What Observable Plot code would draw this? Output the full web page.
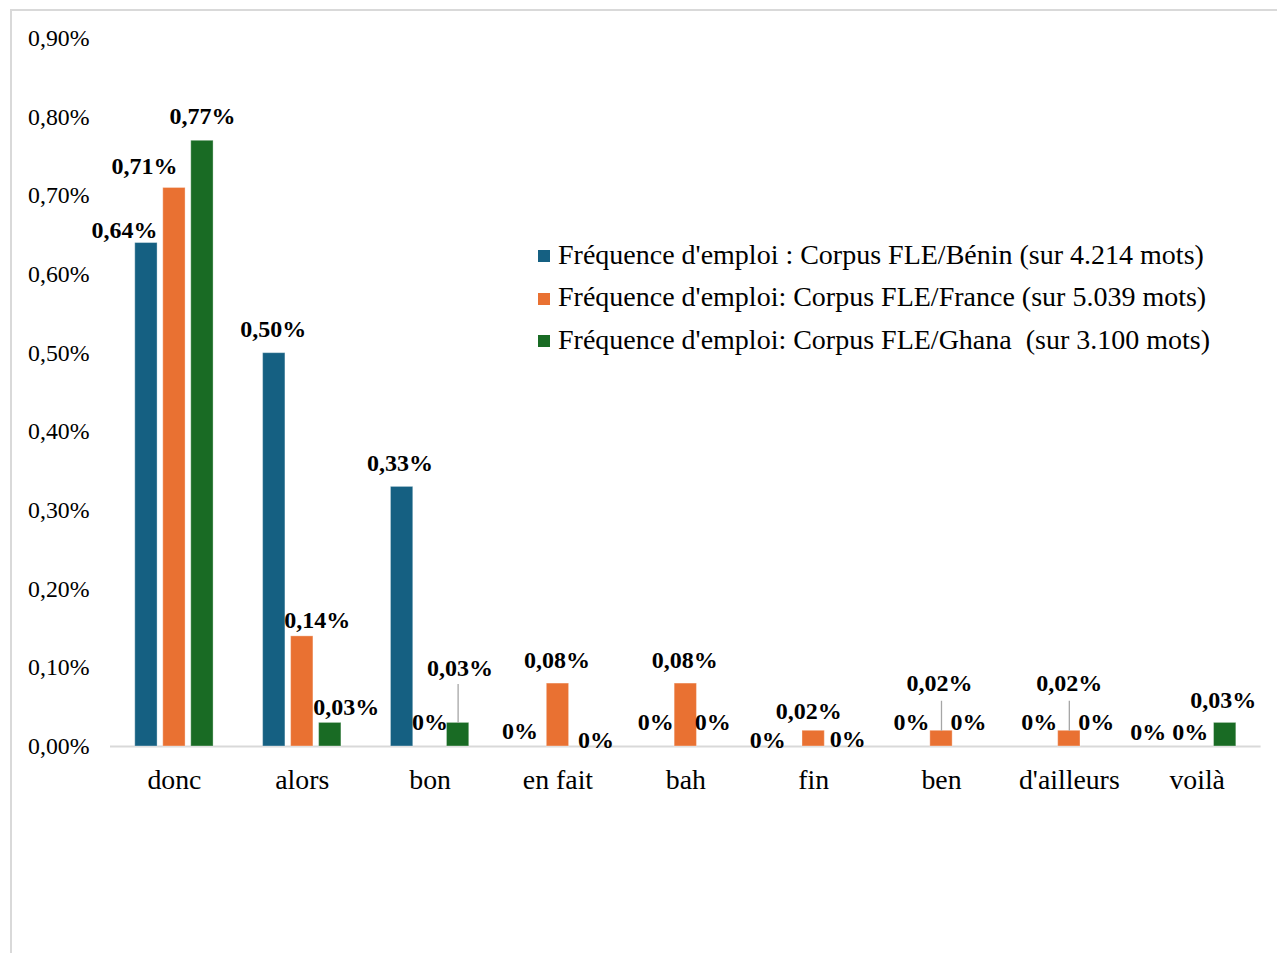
<!DOCTYPE html>
<html>
<head>
<meta charset="utf-8">
<script src="https://cdn.jsdelivr.net/npm/d3@7"></script>
<script src="https://cdn.jsdelivr.net/npm/@observablehq/plot@0.6"></script>
<style>
  html, body { margin: 0; padding: 0; background: #fff; }
  #wrap { position: relative; width: 1277px; height: 953px; overflow: hidden; font-family: "Liberation Serif", "Times New Roman", serif; }
  #frame { position: absolute; left: 10px; top: 9px; right: -4px; bottom: -4px; border-top: 2px solid #d9d9d9; border-left: 2px solid #d9d9d9; }
  #chart { position: absolute; left: 0; top: 0; }
  #legend { position: absolute; left: 538px; top: 233.5px; }
  .row { position: relative; height: 42.5px; line-height: 42.5px; font-size: 28px; color: #000; white-space: pre; }
  .sw { position: absolute; left: 0; top: 16.5px; width: 12px; height: 12px; }
  .lbl { position: absolute; left: 20px; top: 0; }
</style>
</head>
<body>
<div id="wrap">
  <div id="frame"></div>
  <div id="chart"></div>
  <div id="legend"></div>
</div>
<script>
// ---- data ----
const categories = ["donc", "alors", "bon", "en fait", "bah", "fin", "ben", "d'ailleurs", "voilà"];
const seriesNames = [
  "Fréquence d'emploi : Corpus FLE/Bénin (sur 4.214 mots)",
  "Fréquence d'emploi: Corpus FLE/France (sur 5.039 mots)",
  "Fréquence d'emploi: Corpus FLE/Ghana  (sur 3.100 mots)"
];
const benin  = [0.64, 0.50, 0.33, 0, 0, 0, 0, 0, 0];
const france = [0.71, 0.14, 0, 0.08, 0.08, 0.02, 0.02, 0.02, 0];
const ghana  = [0.77, 0.03, 0.03, 0, 0, 0, 0, 0, 0.03];
const yTicks = [0, 0.1, 0.2, 0.3, 0.4, 0.5, 0.6, 0.7, 0.8, 0.9];

// ---- styling / layout ----
const colors = ["#156082", "#E97132", "#196B24"];
const seriesDx = [-28, 0, 28];
const barInset = 52.77;
// label nudges [dx, dy] in px, relative to bar top-center (per category, per series)
const labelNudge = {
  "donc":       [[-22, -12.5], [-30, -21.5], [0, -24]],
  "alors":      [[-1, -23.7], [15, -16], [16, -16]],
  "bon":        [[-2, -24], [0, -24], [2, -55]],
  "en fait":    [[-10, -15], [-1, -23], [10, -6]],
  "bah":        [[-2, -24], [-1, -23], [-1, -24]],
  "fin":        [[-18, -6], [-5, -19], [6, -7]],
  "ben":        [[-2, -24], [-2, -47], [-1, -24]],
  "d'ailleurs": [[-2, -24], [0, -47], [-1, -24]],
  "voilà":      [[-21, -14], [-7, -14], [-2, -23]]
};
const leaders = [
  {category: "bon", series: 2, len: 39},
  {category: "ben", series: 1, len: 30},
  {category: "d'ailleurs", series: 1, len: 30}
];

const seriesValues = [benin, france, ghana];
const rows = categories.flatMap((c, i) => seriesValues.map((vals, s) => ({category: c, series: s, value: vals[i]})));

const marginTop = 38, marginBottom = 207, H = 953;
const pxPerUnit = (H - marginTop - marginBottom) / 0.9;

const fmtTick = d => d.toFixed(2).replace(".", ",") + "%";
const fmtLabel = d => d === 0 ? "0%" : d.toFixed(2).replace(".", ",") + "%";

const marks = [
  Plot.ruleY([0], {stroke: "#d9d9d9", strokeWidth: 2})
];
for (let s = 0; s < 3; s++) {
  marks.push(Plot.barY(rows.filter(r => r.series === s && r.value > 0), {
    x: "category", y: "value", fill: colors[s],
    insetLeft: barInset, insetRight: barInset, dx: seriesDx[s],
    stroke: "#ffffff", strokeOpacity: 0.35, strokeWidth: 1
  }));
}
for (const L of leaders) {
  const r = rows.find(d => d.category === L.category && d.series === L.series);
  marks.push(Plot.link([r], {
    x1: "category", x2: "category",
    y1: "value", y2: d => d.value + L.len / pxPerUnit,
    dx: seriesDx[L.series], stroke: "#a6a6a6", strokeWidth: 1.3
  }));
}
for (const r of rows) {
  const [ndx, ndy] = labelNudge[r.category][r.series];
  marks.push(Plot.text([r], {
    x: "category", y: "value", text: d => fmtLabel(d.value),
    dx: seriesDx[r.series] + ndx, dy: ndy,
    fontSize: 24, fontWeight: "bold", fill: "#000",
    textAnchor: "middle", lineAnchor: "middle"
  }));
}
marks.push(Plot.axisY(yTicks, {tickSize: 0, tickPadding: 21, tickFormat: fmtTick, fontSize: 23.8, label: null, fill: "#000"}));
marks.push(Plot.axisX({tickSize: 0, tickPadding: 23, fontSize: 27.8, label: null, fill: "#000"}));

const chart = Plot.plot({
  width: 1277,
  height: H,
  marginLeft: 110,
  marginRight: 16.4,
  marginTop,
  marginBottom,
  style: {fontFamily: "'Liberation Serif', 'Times New Roman', serif", background: "transparent", color: "#000", overflow: "visible"},
  x: {domain: categories, padding: 0, round: false},
  y: {domain: [0, 0.9]},
  marks
});
document.getElementById("chart").appendChild(chart);

const legend = document.getElementById("legend");
seriesNames.forEach((name, s) => {
  const row = document.createElement("div");
  row.className = "row";
  const sw = document.createElement("div");
  sw.className = "sw";
  sw.style.background = colors[s];
  const lbl = document.createElement("span");
  lbl.className = "lbl";
  lbl.textContent = name;
  row.appendChild(sw);
  row.appendChild(lbl);
  legend.appendChild(row);
});
</script>
</body>
</html>
